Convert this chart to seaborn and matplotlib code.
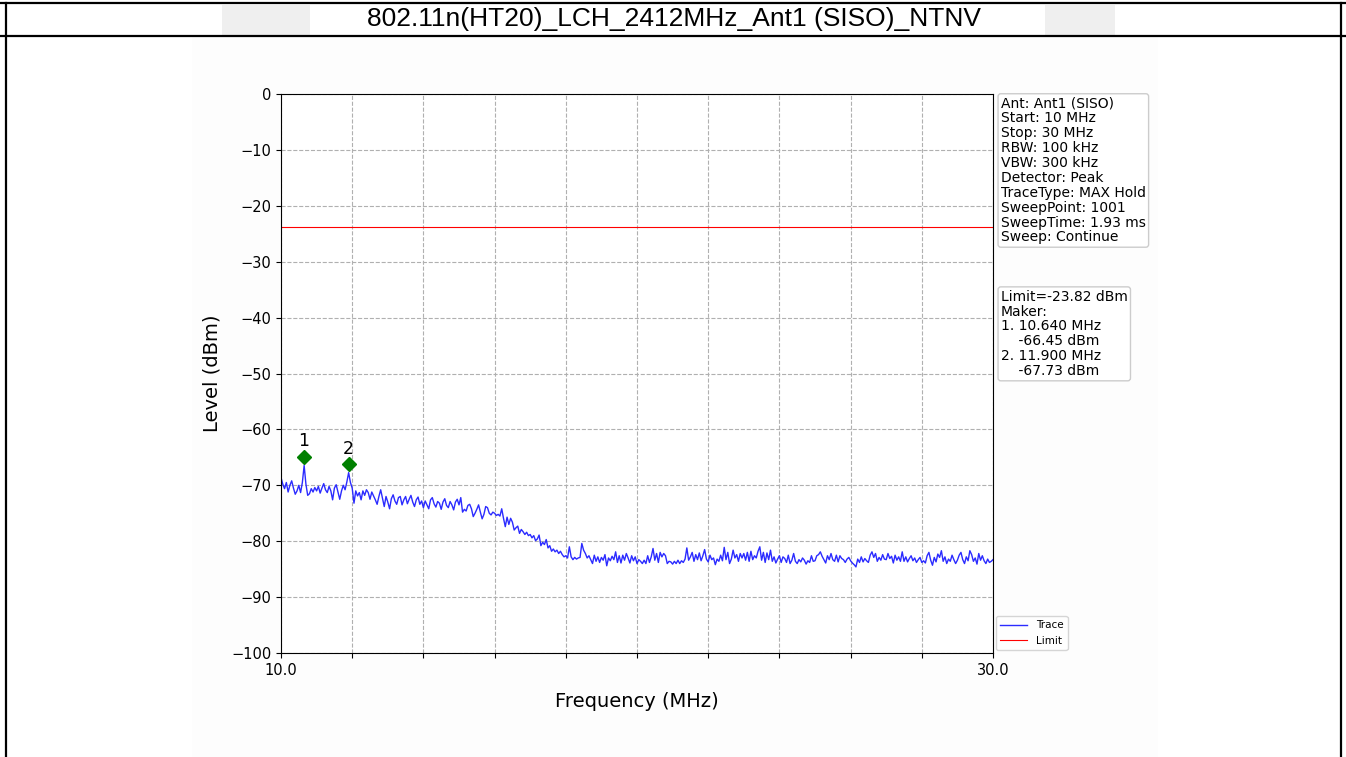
import numpy as np
import pandas as pd
import seaborn as sns
import matplotlib.pyplot as plt
from matplotlib.lines import Line2D
from matplotlib.patches import Rectangle

# sweep settings and trace (0.05 MHz steps)
start_mhz = 10.0
stop_mhz = 30.0
n_points = 401
level_dbm = [
    -68.6, -69.8, -70.6, -69.5, -71.2, -70.0, -69.2, -70.5, -71.6, -71.0, -70.0, -71.3, -69.5, -66.45, -69.8, -71.8, -71.5, -70.6, -71.2, -70.4,
    -71.0, -70.2, -71.4, -70.5, -69.7, -70.8, -71.3, -70.2, -71.0, -72.6, -70.5, -69.9, -71.2, -72.5, -71.0, -70.0, -70.8, -69.4, -67.73, -69.5,
    -70.5, -73.2, -71.0, -71.9, -71.3, -72.6, -71.0, -71.8, -70.8, -71.3, -72.5, -71.2, -71.9, -72.6, -73.4, -72.0, -70.8, -72.3, -73.8, -72.0,
    -73.0, -74.2, -72.4, -71.7, -72.8, -73.4, -72.2, -72.0, -73.5, -72.6, -72.0, -73.3, -72.5, -71.8, -73.0, -73.8, -72.6, -72.1, -73.4, -72.8,
    -74.0, -72.8, -73.5, -74.2, -72.6, -72.2, -73.3, -73.9, -72.9, -73.2, -74.3, -73.0, -72.4, -73.6, -74.0, -72.9, -73.5, -74.4, -73.0, -72.5,
    -73.5, -72.2, -74.8, -74.3, -74.6, -73.6, -73.4, -74.2, -75.6, -75.0, -74.3, -73.5, -74.8, -76.0, -75.2, -73.8, -74.0, -75.0, -75.3, -74.8,
    -75.0, -75.4, -75.2, -75.5, -74.2, -75.9, -77.4, -75.7, -77.0, -75.9, -76.6, -78.0, -77.6, -77.3, -78.6, -77.9, -78.3, -78.8, -78.4, -79.0,
    -78.8, -79.4, -79.0, -79.9, -79.6, -78.9, -80.8, -80.2, -80.6, -79.7, -81.2, -80.8, -81.8, -81.4, -81.9, -81.6, -82.2, -81.8, -82.4, -82.8,
    -82.6, -83.0, -81.0, -82.8, -83.3, -82.9, -83.2, -83.0, -82.9, -80.4, -81.6, -82.2, -83.0, -82.6, -83.3, -84.0, -82.5, -83.6, -82.8, -83.8,
    -82.9, -83.4, -82.4, -84.4, -83.0, -83.5, -82.7, -83.3, -81.9, -83.8, -82.6, -83.9, -82.5, -83.4, -82.2, -83.0, -83.9, -82.6, -83.5, -82.8,
    -84.0, -83.3, -83.6, -84.0, -83.4, -84.0, -82.6, -83.8, -82.8, -81.3, -83.4, -82.2, -83.8, -82.0, -82.8, -82.2, -82.6, -84.0, -83.6, -83.7,
    -84.1, -83.6, -84.0, -83.4, -84.0, -83.5, -83.8, -83.2, -81.2, -83.4, -82.8, -82.0, -83.6, -82.4, -83.3, -82.1, -83.5, -82.6, -81.5, -83.2,
    -83.7, -82.5, -83.3, -83.0, -84.2, -83.2, -83.6, -82.5, -83.5, -81.1, -83.3, -82.0, -84.0, -83.2, -81.6, -83.0, -82.4, -83.6, -82.2, -83.0,
    -82.2, -83.4, -82.0, -83.6, -81.8, -83.3, -82.6, -83.0, -81.8, -81.0, -83.4, -82.0, -83.8, -82.1, -83.3, -81.6, -83.6, -82.8, -83.9, -83.2,
    -82.6, -83.8, -82.8, -83.1, -83.8, -82.5, -84.0, -83.4, -82.2, -83.6, -84.0, -83.3, -83.7, -83.0, -83.4, -84.1, -83.5, -83.8, -82.6, -83.6,
    -83.5, -82.6, -82.4, -81.9, -82.7, -83.3, -83.9, -82.6, -83.3, -82.2, -83.3, -83.6, -82.5, -83.7, -82.6, -83.1, -83.3, -83.8, -83.2, -82.9,
    -83.5, -83.9, -84.2, -84.6, -83.2, -83.8, -82.8, -83.7, -83.1, -83.5, -83.8, -82.5, -81.9, -82.9, -82.2, -83.6, -82.9, -83.4, -82.4, -83.2,
    -83.3, -82.2, -83.1, -82.7, -83.9, -82.5, -83.4, -82.8, -83.6, -81.9, -83.6, -82.8, -83.7, -83.1, -82.6, -83.5, -83.0, -83.8, -83.3, -82.9,
    -83.8, -83.5, -83.9, -82.6, -82.0, -83.4, -84.3, -82.9, -83.7, -82.3, -82.9, -81.7, -83.6, -82.8, -84.0, -83.2, -83.6, -82.5, -83.3, -84.0,
    -83.4, -82.5, -82.0, -83.3, -84.0, -82.8, -83.5, -81.7, -82.4, -83.6, -83.0, -84.1, -82.2, -83.4, -82.6, -83.5, -84.0, -83.2, -83.8, -83.6,
    -83.3,
]
limit_dbm = -23.82
marker_ids = ['1', '2']
marker_freq = [10.640, 11.900]
marker_level = [-66.45, -67.73]

title = '802.11n(HT20)_LCH_2412MHz_Ant1 (SISO)_NTNV'
info_text = ('Ant: Ant1 (SISO)\nStart: 10 MHz\nStop: 30 MHz\nRBW: 100 kHz\nVBW: 300 kHz\n'
             'Detector: Peak\nTraceType: MAX Hold\nSweepPoint: 1001\nSweepTime: 1.93 ms\nSweep: Continue')
marker_text = 'Limit=-23.82 dBm\nMaker:\n' + '\n'.join(
    f'{i}. {f:.3f} MHz\n    {l:.2f} dBm' for i, f, l in zip(marker_ids, marker_freq, marker_level))

freq = np.linspace(start_mhz, stop_mhz, n_points)
df = pd.DataFrame({'Frequency': freq, 'Level': level_dbm})

W, H = 1346, 757
fig = plt.figure(figsize=(W / 100, H / 100), dpi=100)

# page / table frame around the plot image
fig.add_artist(Rectangle((192 / W, 0), 966 / W, 720 / H, transform=fig.transFigure,
                         facecolor='#fdfdfd', edgecolor='none', zorder=0))
for x0, x1 in [(222, 310), (1045, 1115)]:
    fig.add_artist(Rectangle((x0 / W, 1 - 36 / H), (x1 - x0) / W, 31 / H, transform=fig.transFigure,
                             facecolor='#efefef', edgecolor='none', zorder=0))
for xs, ys in [((0, W), (3, 3)), ((0, W), (36, 36)), ((6, 6), (3, H)), ((1341, 1341), (3, H))]:
    fig.add_artist(Line2D([x / W for x in xs], [1 - y / H for y in ys], transform=fig.transFigure,
                          color='black', lw=1.6))
fig.text(674 / W, 1 - 19 / H, title, ha='center', va='center', fontsize=19,
         family='Liberation Sans')

ax = fig.add_axes([281 / W, 1 - 653 / H, 712 / W, 559 / H])
sns.lineplot(data=df, x='Frequency', y='Level', color='#2b2bff', lw=1.0, label='Trace', ax=ax)
ax.axhline(limit_dbm, color='red', lw=0.8, label='Limit')
ax.plot(marker_freq, [l + 1.5 for l in marker_level], 'D', color='green', ms=7.5, zorder=5)
for mid, f, l in zip(marker_ids, marker_freq, marker_level):
    ax.text(f, l + 4.3, mid, ha='center', va='center', fontsize=12.5)

ax.set_xlim(start_mhz, stop_mhz)
ax.set_ylim(-100, 0)
xt = np.arange(10, 31, 2)
ax.set_xticks(xt)
ax.set_xticklabels([f'{v:.1f}' if v in (10, 30) else '' for v in xt])
ax.set_yticks(np.arange(-100, 1, 10))
ax.tick_params(labelsize=10.5)
ax.grid(True, linestyle='--', color='#b0b0b0', lw=0.8)
ax.set_xlabel('Frequency (MHz)', fontsize=14, labelpad=10)
ax.set_ylabel('Level (dBm)', fontsize=14, labelpad=7)

box = dict(boxstyle='round,pad=0.2', facecolor='white', edgecolor='#cccccc')
ax.text(1.011, 0.9955, info_text, transform=ax.transAxes, ha='left', va='top', fontsize=10,
        linespacing=1.08, bbox=box)
ax.text(1.011, 0.650, marker_text, transform=ax.transAxes, ha='left', va='top', fontsize=10,
        linespacing=1.08, bbox=box)
ax.legend(loc='lower left', bbox_to_anchor=(1.0, 0.0), fontsize=7.5, handlelength=2.6, borderaxespad=0.3)

fig.savefig('out.png', dpi=100)
